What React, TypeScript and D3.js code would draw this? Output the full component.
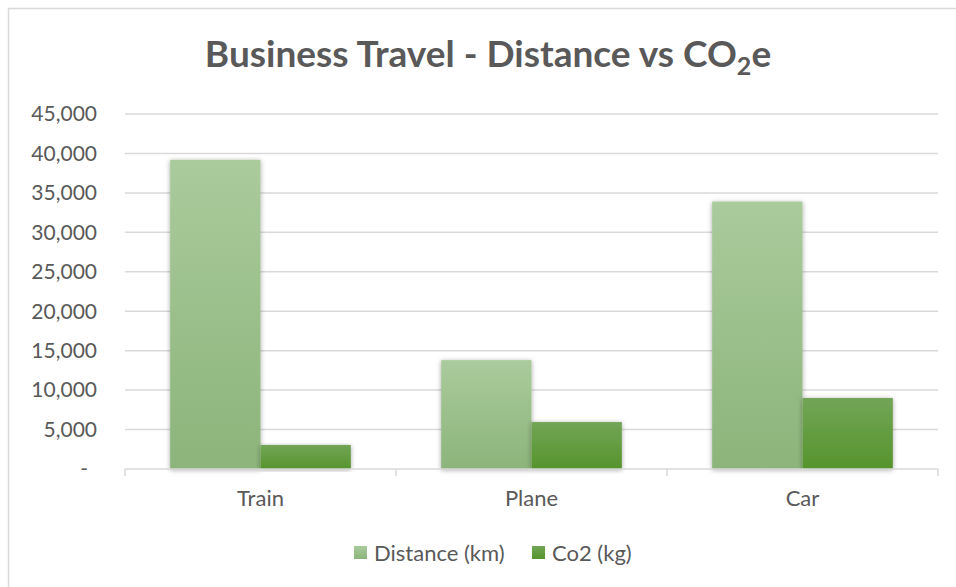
import React, { useRef, useEffect } from "react";
import * as d3 from "d3";

const categories = ["Train", "Plane", "Car"];
const seriesNames = ["Distance (km)", "Co2 (kg)"];
const distanceKm = [39200, 13800, 33900];
const co2Kg = [3050, 5950, 9000];
const yTicks = [0, 5000, 10000, 15000, 20000, 25000, 30000, 35000, 40000, 45000];

const App = () => {
  const svgRef = useRef(null);
  const width = 956;
  const height = 587;

  useEffect(() => {
    const svg = d3.select(svgRef.current);
    svg.selectAll("*").remove();

    const margin = { top: 114, right: 18, bottom: 118, left: 125 };
    const font = "Lato, 'Open Sans', sans-serif";
    const textColor = "#595959";
    const gridColor = "#d9d9d9";

    const defs = svg.append("defs");
    const grads = [
      { id: "gDist", top: "#aacb9c", bottom: "#8cb47a" },
      { id: "gCo2", top: "#72a556", bottom: "#56942c" },
    ];
    grads.forEach((g) => {
      const lg = defs
        .append("linearGradient")
        .attr("id", g.id)
        .attr("x1", 0)
        .attr("y1", 0)
        .attr("x2", 0)
        .attr("y2", 1);
      lg.append("stop").attr("offset", "0%").attr("stop-color", g.top);
      lg.append("stop").attr("offset", "100%").attr("stop-color", g.bottom);
    });
    const shadow = defs
      .append("filter")
      .attr("id", "shadow")
      .attr("x", "-20%")
      .attr("y", "-5%")
      .attr("width", "140%")
      .attr("height", "115%");
    shadow
      .append("feDropShadow")
      .attr("dx", 0)
      .attr("dy", 1)
      .attr("stdDeviation", 2.5)
      .attr("flood-color", "#000")
      .attr("flood-opacity", 0.35);

    // outer chart border (only top & left visible in frame)
    svg
      .append("rect")
      .attr("x", 8.5)
      .attr("y", 8.5)
      .attr("width", width + 20)
      .attr("height", height + 20)
      .attr("fill", "#fff")
      .attr("stroke", gridColor)
      .attr("stroke-width", 1.5);

    const x0 = d3
      .scaleBand()
      .domain(categories)
      .range([margin.left, width - margin.right])
      .paddingInner(1 / 3)
      .paddingOuter(1 / 6);

    const x1 = d3.scaleBand().domain(seriesNames).range([0, x0.bandwidth()]);

    const y = d3
      .scaleLinear()
      .domain([0, 45000])
      .range([height - margin.bottom, margin.top]);

    // gridlines
    svg
      .append("g")
      .selectAll("line")
      .data(yTicks.filter((d) => d > 0))
      .join("line")
      .attr("x1", margin.left)
      .attr("x2", width - margin.right)
      .attr("y1", (d) => y(d))
      .attr("y2", (d) => y(d))
      .attr("stroke", gridColor)
      .attr("stroke-width", 1.5);

    // y tick labels
    const fmt = d3.format(",");
    svg
      .append("g")
      .selectAll("text")
      .data(yTicks)
      .join("text")
      .attr("x", (d) => (d === 0 ? 88 : 97))
      .attr("y", (d) => y(d))
      .attr("dy", "0.35em")
      .attr("text-anchor", "end")
      .attr("fill", textColor)
      .style("font-family", font)
      .style("font-size", "21px")
      .text((d) => (d === 0 ? "-" : fmt(d)));

    // bars
    const data = categories.map((c, i) => ({
      cat: c,
      values: [
        { key: seriesNames[0], value: distanceKm[i], fill: "url(#gDist)" },
        { key: seriesNames[1], value: co2Kg[i], fill: "url(#gCo2)" },
      ],
    }));

    svg
      .append("g")
      .selectAll("g")
      .data(data)
      .join("g")
      .attr("transform", (d) => `translate(${x0(d.cat)},0)`)
      .selectAll("rect")
      .data((d) => d.values)
      .join("rect")
      .attr("x", (d) => x1(d.key))
      .attr("y", (d) => y(d.value))
      .attr("width", x1.bandwidth())
      .attr("height", (d) => y(0) - y(d.value))
      .attr("fill", (d) => d.fill)
      .attr("filter", "url(#shadow)");

    // x axis
    const axisY = y(0);
    const ax = svg.append("g");
    ax.append("line")
      .attr("x1", margin.left)
      .attr("x2", width - margin.right)
      .attr("y1", axisY)
      .attr("y2", axisY)
      .attr("stroke", gridColor)
      .attr("stroke-width", 1.5);
    const bounds = [margin.left, ...categories.map((c) => x0(c) + x0.bandwidth() + (x0.step() - x0.bandwidth()) / 2)];
    ax.selectAll("line.tick")
      .data(bounds)
      .join("line")
      .attr("class", "tick")
      .attr("x1", (d) => d)
      .attr("x2", (d) => d)
      .attr("y1", axisY)
      .attr("y2", axisY + 7)
      .attr("stroke", gridColor)
      .attr("stroke-width", 1.5);
    ax.selectAll("text")
      .data(categories)
      .join("text")
      .attr("x", (d) => x0(d) + x0.bandwidth() / 2)
      .attr("y", axisY + 37)
      .attr("text-anchor", "middle")
      .attr("fill", textColor)
      .style("font-family", font)
      .style("font-size", "22px")
      .text((d) => d);

    // title
    const title = svg
      .append("text")
      .attr("x", 488)
      .attr("y", 67)
      .attr("text-anchor", "middle")
      .attr("fill", textColor)
      .style("font-family", font)
      .style("font-size", "37px")
      .style("font-weight", "bold");
    title.append("tspan").text("Business Travel - Distance vs CO");
    title.append("tspan").attr("dy", 8).style("font-size", "25px").text("2");
    title.append("tspan").attr("dy", -8).text("e");

    // legend
    const legendItems = [
      { name: seriesNames[0], fill: "url(#gDist)", x: 354 },
      { name: seriesNames[1], fill: "url(#gCo2)", x: 532 },
    ];
    const lg = svg
      .append("g")
      .selectAll("g")
      .data(legendItems)
      .join("g")
      .attr("transform", (d) => `translate(${d.x},546)`);
    lg.append("rect").attr("width", 13).attr("height", 13).attr("fill", (d) => d.fill);
    lg.append("text")
      .attr("x", 20)
      .attr("y", 7)
      .attr("dy", "0.35em")
      .attr("fill", textColor)
      .style("font-family", font)
      .style("font-size", "22px")
      .text((d) => d.name);
  }, []);

  return (
    <div style={{ position: "absolute", left: 0, top: 0 }}>
      <svg ref={svgRef} width={width} height={height} style={{ display: "block" }}></svg>
    </div>
  );
};

export default App;
